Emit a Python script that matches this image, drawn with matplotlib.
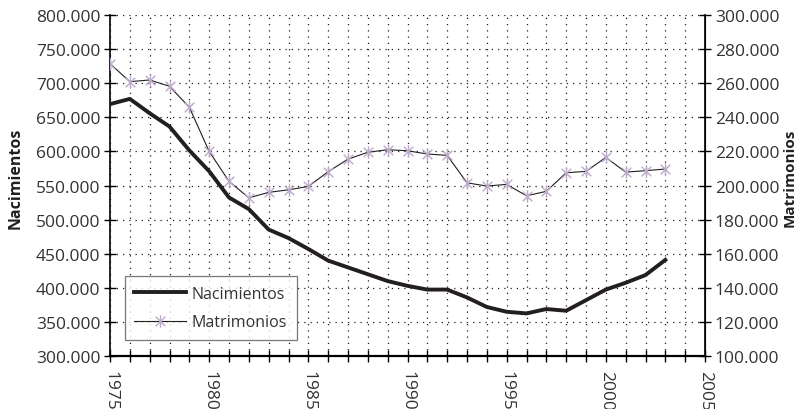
import numpy as np
import matplotlib.pyplot as plt
from matplotlib.path import Path
from matplotlib.ticker import FuncFormatter, MultipleLocator

years = list(range(1975, 2004))
nacimientos = [669.4, 677.0, 656.0, 636.5, 601.5, 571.0, 532.5, 515.5, 485.5, 473.0,
               457.0, 440.0, 430.0, 420.0, 410.0, 403.0, 397.5, 397.5, 386.0, 372.0,
               365.0, 362.6, 369.0, 366.5, 382.0, 397.5, 407.5, 418.8, 441.0]
matrimonios = [271.5, 260.9, 261.9, 258.2, 245.9, 220.0, 202.5, 192.8, 196.0, 197.5,
               199.5, 208.1, 215.5, 219.5, 221.0, 220.4, 218.5, 217.7, 201.6, 199.7,
               200.7, 194.0, 196.6, 207.5, 208.3, 216.5, 207.9, 208.7, 209.7]
nacimientos = [v * 1000 for v in nacimientos]
matrimonios = [v * 1000 for v in matrimonios]

plt.rcParams['font.family'] = ['Open Sans', 'DejaVu Sans']
col_txt = '#333333'

# asterisco tipo Excel: X + linea vertical
ast = Path([(-1, -1), (1, 1), (-1, 1), (1, -1), (0, -1.3), (0, 1.3)],
           [Path.MOVETO, Path.LINETO, Path.MOVETO, Path.LINETO, Path.MOVETO, Path.LINETO])

fig = plt.figure(figsize=(8, 4.1), dpi=100)
ax = fig.add_axes([0.1375, 0.129, 0.74375, 0.832])
ax2 = ax.twinx()

l1, = ax.plot(years, nacimientos, color='#231f20', lw=2.8, solid_joinstyle='round', zorder=3)
l2, = ax2.plot(years, matrimonios, color='#231f20', lw=0.8, marker=ast, markersize=9,
               markeredgecolor='#bda9c9', markeredgewidth=1.0, zorder=3)

ax.set_xlim(1975, 2005)
ax.set_ylim(300000, 800000)
ax2.set_ylim(100000, 300000)
ax.set_xticks(range(1975, 2006))
ax.set_xticklabels([str(y) if y % 5 == 0 else '' for y in range(1975, 2006)],
                   rotation=270, fontsize=12.5, color=col_txt)
ax.yaxis.set_major_locator(MultipleLocator(50000))
ax2.yaxis.set_major_locator(MultipleLocator(20000))

ax.yaxis.set_major_formatter(FuncFormatter(lambda v, p: '{:.3f}'.format(v / 1000)))
ax2.yaxis.set_major_formatter(FuncFormatter(lambda v, p: '{:.3f}'.format(v / 1000)))

for a in (ax, ax2):
    a.tick_params(axis='y', direction='inout', length=8, width=1, labelsize=12.5,
                  labelcolor=col_txt, pad=3)
ax.tick_params(axis='x', direction='inout', length=8, width=1, pad=6)

ax.grid(True, which='major', axis='both', linestyle=(0, (1, 4)), color='#231f20', lw=0.9)
ax.spines['top'].set_visible(False)
ax2.spines['top'].set_visible(False)
ax.spines['bottom'].set_linewidth(1.6)
ax.spines['left'].set_linewidth(1.2)
ax2.spines['right'].set_linewidth(1.2)
ax2.spines['left'].set_visible(False)
ax2.spines['bottom'].set_visible(False)

ax.set_ylabel('Nacimientos', fontsize=11.5, fontweight='bold', color='#231f20')
ax2.set_ylabel('Matrimonios', fontsize=11, fontweight='bold', color='#231f20')
ax.yaxis.set_label_coords(-0.145, 0.525)
ax2.yaxis.set_label_coords(1.131, 0.525)

leg = ax.legend([l1, l2], ['Nacimientos', 'Matrimonios'], loc='lower left',
                bbox_to_anchor=(0.025, 0.047), borderaxespad=0, fontsize=11.5,
                frameon=True, fancybox=False, handlelength=3.2, labelspacing=0.8,
                borderpad=0.6, handletextpad=0.4, labelcolor=col_txt)
leg.get_frame().set_edgecolor('#555555')
leg.get_frame().set_linewidth(0.9)
leg.set_zorder(5)

fig.savefig('out.png', dpi=100)
